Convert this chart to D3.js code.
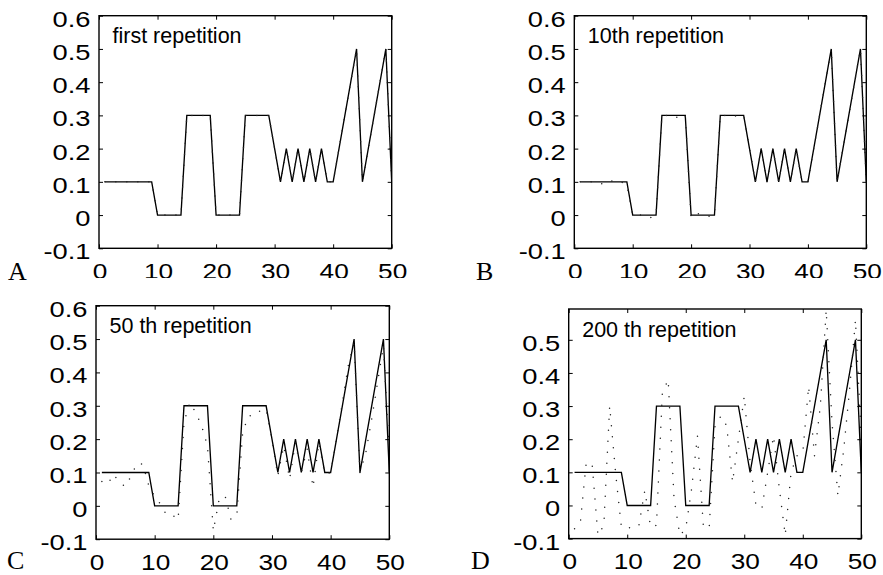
<!DOCTYPE html>
<html><head><meta charset="utf-8">
<script src="https://cdn.jsdelivr.net/npm/d3@7"></script>
<style>
html,body{margin:0;padding:0;background:#fff;}
svg{display:block;}
</style>
</head><body>
<svg id="chart" width="883" height="575"></svg>
<script>
// ---------- data ----------
const steps = [1,2,3,4,5,6,7,8,9,10,11,12,13,14,15,16,17,18,19,20,21,22,23,24,25,
               26,27,28,29,30,31,32,33,34,35,36,37,38,39,40,41,42,43,44,45,46,47,48,49,50];
const xTickValues = [0,10,20,30,40,50];
const yTickValues = [-0.1,0,0.1,0.2,0.3,0.4,0.5,0.6];
const yTickValuesD = [-0.1,0,0.1,0.2,0.3,0.4,0.5];
const panelLetters = ["A","B","C","D"];
const panelTitles = ["first repetition","10th repetition","50 th repetition","200 th repetition"];

// desired (target) sequence
const target = [0.1,0.1,0.1,0.1,0.1,0.1,0.1,0.1,0.1,0,
                0,0,0,0,0.3,0.3,0.3,0.3,0.3,0,
                0,0,0,0,0.3,0.3,0.3,0.3,0.3,0.2,
                0.1,0.2,0.1,0.2,0.1,0.2,0.1,0.2,0.1,0.1,
                0.2,0.3,0.4,0.5,0.1,0.2,0.3,0.4,0.5,0.1];
// network output after n repetitions (dotted)
const outputA = [0.1,0.1,0.1,0.1,0.1,0.1,0.1,0.1,0.1,0,
                 0,0,0,0,0.3,0.3,0.3,0.3,0.3,0,
                 0,0,0,0,0.3,0.3,0.3,0.3,0.3,0.2,
                 0.1,0.2,0.1,0.2,0.1,0.2,0.1,0.2,0.1,0.1,
                 0.2,0.3,0.4,0.5,0.1,0.2,0.3,0.4,0.5,0.1];
const outputB = [0.1,0.1,0.1,0.1,0.092,0.1,0.106,0.1,0.092,0.0,
                 0.0,0.0,-0.008,0.0,0.3,0.3,0.3,0.29,0.3,-0.008,
                 0.005,0.0,-0.004,0.0,0.3,0.3,0.295,0.3,0.3,0.2,
                 0.1,0.2,0.1,0.2,0.1,0.2,0.1,0.2,0.1,0.1,
                 0.2,0.3,0.4,0.5,0.1,0.2,0.3,0.4,0.5,0.1];
const outputC = [0.073,0.065,0.095,0.07,0.058,0.09,0.128,0.125,0.06,0.028,
                 0.005,-0.027,-0.027,-0.042,0.25,0.31,0.28,0.24,0.18,-0.075,
                 0.02,0.03,-0.04,-0.03,0.22,0.27,0.27,0.285,0.29,0.2,
                 0.09,0.18,0.08,0.19,0.1,0.17,0.055,0.19,0.095,0.1,
                 0.2,0.31,0.42,0.49,0.1,0.16,0.26,0.37,0.48,0.15];
const outputD = [-0.07,-0.05,0.13,0.125,-0.09,-0.06,0.30,0.10,-0.065,-0.065,
                 -0.07,-0.06,0.045,-0.065,-0.06,0.34,0.38,0.02,-0.09,-0.07,
                 0.05,0.21,-0.06,-0.07,0.24,0.27,0.24,0.07,0.20,0.33,
                 0.13,0.0,-0.01,0.10,0.21,0.05,-0.09,0.10,0.15,0.16,
                 0.36,0.15,0.30,0.59,0.25,0.03,0.17,0.35,0.56,0.20];
const outputs = [outputA, outputB, outputC, outputD];
const yTops = [0.6, 0.6, 0.6, 0.593];
const yTickSets = [yTickValues, yTickValues, yTickValues, yTickValuesD];

// ---------- layout ----------
const layout = [
  {left:99,    top:15.7,  right:391.7, bottom:248.3, labelClip:278,   letterX:8,   letterY:280},
  {left:574.3, top:15.7,  right:866.3, bottom:248.3, labelClip:278,   letterX:476, letterY:280},
  {left:96,    top:305.7, right:389.3, bottom:539.2, labelClip:570.5, letterX:7,   letterY:569},
  {left:568.7, top:309,   right:861.3, bottom:538.6, labelClip:570.5, letterX:471, letterY:569}
];

const svg = d3.select("#chart");
const defs = svg.append("defs");
const tickFont = "'Liberation Sans', Arial, Helvetica, sans-serif";
const fmt = d => String(d);

layout.forEach((L, i) => {
  const x = d3.scaleLinear().domain([0,50]).range([L.left, L.right]);
  const y = d3.scaleLinear().domain([-0.1, yTops[i]]).range([L.bottom, L.top]);

  defs.append("clipPath").attr("id","plot"+i)
    .append("rect").attr("x",L.left).attr("y",L.top)
    .attr("width",L.right-L.left).attr("height",L.bottom-L.top);
  defs.append("clipPath").attr("id","lab"+i)
    .append("rect").attr("x",0).attr("y",0).attr("width",883).attr("height",L.labelClip);

  const g = svg.append("g");

  // data lines
  const line = d3.line().x((d,j)=>x(steps[j])).y(d=>y(d));
  const plot = g.append("g").attr("clip-path","url(#plot"+i+")");
  plot.append("path").datum(target).attr("d",line)
    .attr("fill","none").attr("stroke","#000").attr("stroke-width",1.35)
    .attr("stroke-linejoin","miter");
  plot.append("path").datum(outputs[i]).attr("d",line)
    .attr("fill","none").attr("stroke","#222").attr("stroke-width",1.5)
    .attr("stroke-linecap","round").attr("stroke-dasharray","0,11");

  // ticks on all four sides (inward)
  const tk = 4;
  const axB = g.append("g").attr("clip-path","url(#lab"+i+")")
    .append("g").attr("transform",`translate(0,${L.bottom})`)
    .call(d3.axisBottom(x).tickValues(xTickValues).tickFormat(fmt).tickSize(-tk).tickSizeOuter(0));
  const axT = g.append("g").attr("transform",`translate(0,${L.top})`)
    .call(d3.axisTop(x).tickValues(xTickValues).tickFormat("").tickSize(-tk).tickSizeOuter(0));
  const axL = g.append("g").attr("transform",`translate(${L.left},0)`)
    .call(d3.axisLeft(y).tickValues(yTickSets[i]).tickFormat(fmt).tickSize(-tk).tickSizeOuter(0));
  const axR = g.append("g").attr("transform",`translate(${L.right},0)`)
    .call(d3.axisRight(y).tickValues(yTickSets[i]).tickFormat("").tickSize(-tk).tickSizeOuter(0));
  [axB,axT,axL,axR].forEach(a=>{
    a.select(".domain").remove();
    a.selectAll(".tick line").attr("stroke","#000").attr("stroke-width",1);
  });
  axB.selectAll(".tick text")
    .attr("y",null).attr("dy",null).attr("fill","#000")
    .attr("font-family",tickFont).attr("font-size",21.5)
    .attr("text-anchor","middle")
    .attr("transform","translate(0.5,30.3) scale(1.22,1)");
  axL.selectAll(".tick text")
    .attr("x",null).attr("dy",null).attr("fill","#000")
    .attr("font-family",tickFont).attr("font-size",21.5)
    .attr("text-anchor","end")
    .attr("transform","translate(-8.5,10.5) scale(1.27,1)");

  // frame
  g.append("rect").attr("x",L.left).attr("y",L.top)
    .attr("width",L.right-L.left).attr("height",L.bottom-L.top)
    .attr("fill","none").attr("stroke","#000").attr("stroke-width",1.4);

  // title inside plot
  g.append("text").attr("x",L.left+13.5).attr("y",L.top+27.6)
    .attr("font-family",tickFont).attr("font-size",21.5).attr("fill","#000")
    .text(panelTitles[i]);

  // panel letter
  g.append("text").attr("x",L.letterX).attr("y",L.letterY)
    .attr("font-family","'Liberation Serif','DejaVu Serif',serif")
    .attr("font-size",26).attr("fill","#000")
    .text(panelLetters[i]);
});
</script>
</body></html>
